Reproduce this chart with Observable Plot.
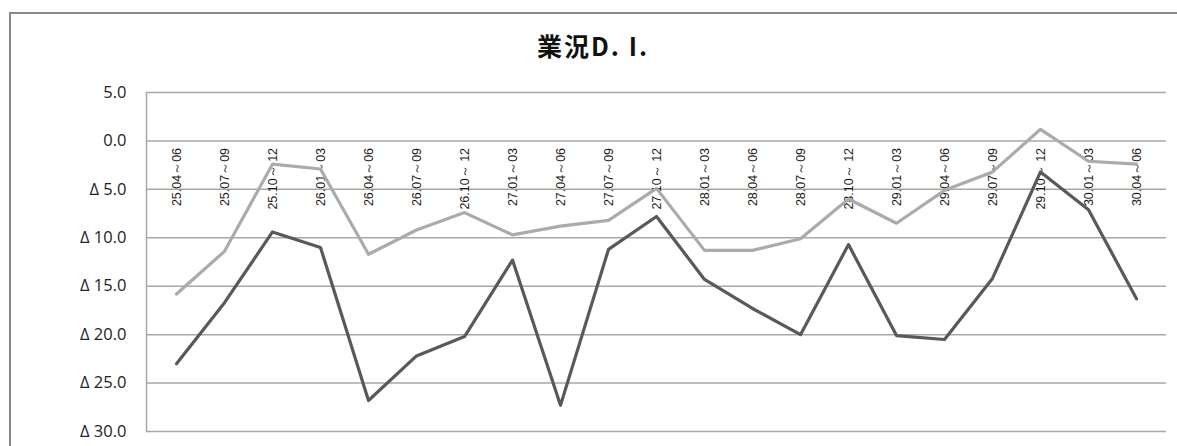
<!DOCTYPE html>
<html>
<head>
<meta charset="utf-8">
<script src="https://cdn.jsdelivr.net/npm/d3@7"></script>
<script src="https://cdn.jsdelivr.net/npm/@observablehq/plot@0.6"></script>
<style>
  html, body { margin: 0; padding: 0; background: #fff; }
  #wrap { position: relative; width: 1177px; height: 446px; overflow: hidden; }
  #border { position: absolute; left: 9px; top: 12px; width: 1200px; height: 500px;
            border-left: 2px solid #8a8a8a; border-top: 2px solid #8a8a8a; }
  #title { position: absolute; left: 537px; top: 29px; font-family: "Noto Sans CJK JP", sans-serif;
           font-weight: bold; font-size: 25px; letter-spacing: 2px; line-height: 32px; color: #111; white-space: nowrap; }
  #chart { position: absolute; left: 0; top: 0; }
</style>
</head>
<body>
<div id="wrap">
  <div id="border"></div>
  <div id="title">業況D. I.</div>
  <div id="chart"></div>
</div>
<script>
const categories = ["25.04～06","25.07～09","25.10～ 12","26.01～03","26.04～06","26.07～09","26.10～ 12",
  "27.01～03","27.04～06","27.07～09","27.10～ 12","28.01～03","28.04～06","28.07～09","28.10～ 12",
  "29.01～03","29.04～06","29.07～09","29.10～ 12","30.01～03","30.04～06"];
const seriesLight = [-15.8, -11.4, -2.4, -2.9, -11.7, -9.2, -7.4, -9.7, -8.8, -8.2, -4.9,
  -11.3, -11.3, -10.1, -6.0, -8.5, -5.1, -3.2, 1.2, -2.1, -2.4];
const seriesDark = [-23.0, -16.7, -9.4, -11.0, -26.8, -22.2, -20.2, -12.3, -27.3, -11.2, -7.8,
  -14.3, -17.3, -20.0, -10.7, -20.1, -20.5, -14.2, -3.2, -7.1, -16.3];
const yTicks = [5, 0, -5, -10, -15, -20, -25, -30];

const lightData = categories.map((c, i) => ({cat: c, v: seriesLight[i]}));
const darkData = categories.map((c, i) => ({cat: c, v: seriesDark[i]}));
const fmt = d => d < 0 ? "Δ " + Math.abs(d).toFixed(1) : d.toFixed(1);

const chart = Plot.plot({
  width: 1177,
  height: 446,
  marginLeft: 146,
  marginRight: 11,
  marginTop: 92,
  marginBottom: 15,
  style: {background: "transparent", overflow: "visible"},
  x: {type: "point", domain: categories, padding: 0.5, axis: null},
  y: {domain: [-30, 5], axis: null, label: null},
  marks: [
    Plot.gridY(yTicks, {stroke: "#a8a8a8", strokeOpacity: 1, strokeWidth: 1.5}),
    Plot.frame({anchor: "left", stroke: "#a8a8a8", strokeWidth: 1.5}),
    Plot.axisY(yTicks, {tickFormat: fmt, tickSize: 0, tickPadding: 20, fontSize: 16.5, label: null,
      fontFamily: "Open Sans, sans-serif", fill: "#222"}),
    Plot.text(categories, {x: d => d, y: () => 0, text: d => d, rotate: -90, textAnchor: "end",
      dy: 7, fontSize: 12.5, fontFamily: "Liberation Sans, Arial, sans-serif", fill: "#1a1a1a"}),
    Plot.line(lightData, {x: "cat", y: "v", stroke: "#ababab", strokeWidth: 3.2}),
    Plot.line(darkData, {x: "cat", y: "v", stroke: "#595959", strokeWidth: 3.2})
  ]
});
document.getElementById("chart").appendChild(chart);
</script>
</body>
</html>
